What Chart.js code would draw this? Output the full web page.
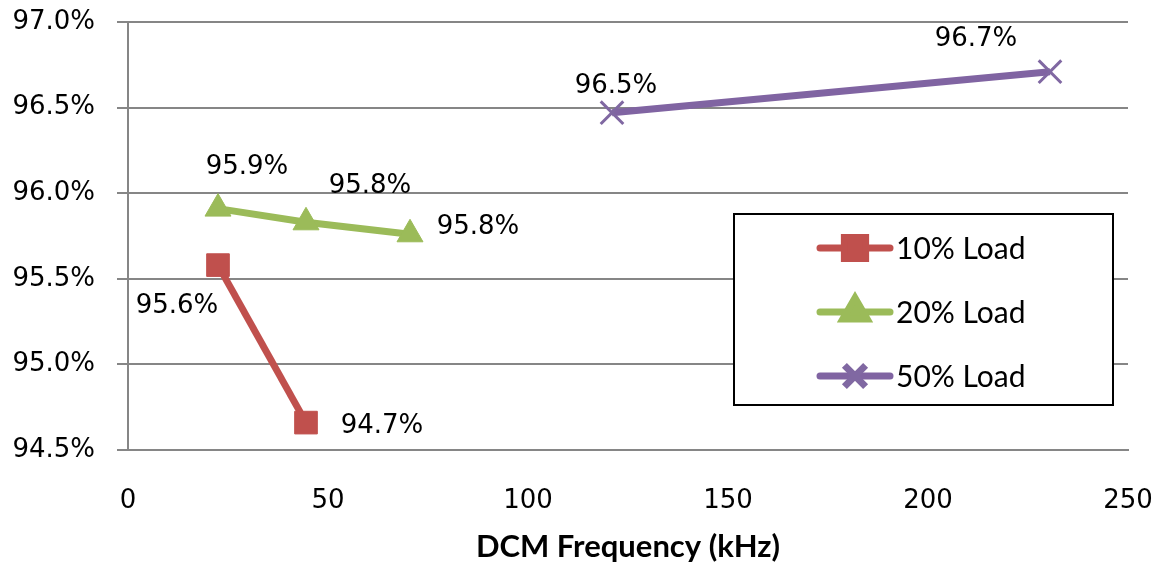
<!DOCTYPE html>
<html>
<head>
<meta charset="utf-8">
<script src="https://cdn.jsdelivr.net/npm/chart.js@4.4.1/dist/chart.umd.min.js"></script>
<style>
  html, body { margin: 0; padding: 0; background: #fff; }
  #wrap { width: 1163px; height: 567px; }
</style>
</head>
<body>
<div id="wrap"><canvas id="myChart"></canvas></div>
<script>
// data
const seriesNames = ["10% Load", "20% Load", "50% Load"];
const load10X = [22.5, 44.5];
const load10Y = [95.58, 94.66];
const load20X = [22.5, 44.5, 70.5];
const load20Y = [95.91, 95.83, 95.76];
const load50X = [121, 230.5];
const load50Y = [96.47, 96.71];
const xTicks = [0, 50, 100, 150, 200, 250];
const yTicks = [94.5, 95.0, 95.5, 96.0, 96.5, 97.0];

const gridGray = "#868686";
const tickFont = { family: "'DejaVu Sans'", size: 26 };

function points(xs, ys) {
  return xs.map((x, i) => ({ x: x, y: ys[i] }));
}

// where each value label sits relative to its point
const labelOffsets = [
  [[-41, 41], [76, 4]],
  [[29, -41], [64, -36], [68, -7]],
  [[4, -26], [-74, -32]]
];

const dataLabels = {
  id: "dataLabels",
  afterDatasetsDraw(chart) {
    const ctx = chart.ctx;
    ctx.save();
    ctx.font = "26px 'DejaVu Sans'";
    ctx.fillStyle = "#000";
    ctx.textAlign = "center";
    ctx.textBaseline = "middle";
    chart.data.datasets.forEach((ds, i) => {
      chart.getDatasetMeta(i).data.forEach((pt, j) => {
        const off = labelOffsets[i][j];
        ctx.fillText(ds.data[j].y.toFixed(1) + "%", pt.x + off[0], pt.y + off[1]);
      });
    });
    ctx.restore();
  }
};

// boxed legend inside the plot
const boxLegend = {
  id: "boxLegend",
  afterDraw(chart) {
    const ctx = chart.ctx;
    const left = 734, top = 214, w = 379, h = 191;
    ctx.save();
    ctx.fillStyle = "#fff";
    ctx.fillRect(left, top, w, h);
    ctx.strokeStyle = "#000";
    ctx.lineWidth = 2;
    ctx.strokeRect(left, top, w, h);
    chart.data.datasets.forEach((ds, i) => {
      const y = 248 + i * 64;
      ctx.strokeStyle = ds.borderColor;
      ctx.lineWidth = 7;
      ctx.lineCap = "round";
      ctx.beginPath();
      ctx.moveTo(820, y);
      ctx.lineTo(890, y);
      ctx.stroke();
      ctx.lineCap = "butt";
      ctx.fillStyle = ds.pointBackgroundColor;
      ctx.strokeStyle = ds.pointBorderColor;
      Chart.helpers.drawPoint(ctx, {
        pointStyle: ds.pointStyle,
        radius: ds.pointRadius - 1,
        borderWidth: ds.pointBorderWidth,
        rotation: 0
      }, 855, y);
      ctx.fillStyle = "#000";
      ctx.font = "30px Lato";
      ctx.textAlign = "left";
      ctx.textBaseline = "middle";
      ctx.fillText(seriesNames[i], 896, y + 1);
    });
    ctx.restore();
  }
};

const ctx = document.getElementById("myChart").getContext("2d");
const myChart = new Chart(ctx, {
  type: "line",
  data: {
    datasets: [
      {
        label: seriesNames[0],
        data: points(load10X, load10Y),
        borderColor: "#C0504D",
        backgroundColor: "#C0504D",
        borderWidth: 7,
        pointStyle: "rect",
        pointRadius: 16,
        pointBackgroundColor: "#C0504D",
        pointBorderColor: "#C0504D",
        pointBorderWidth: 1
      },
      {
        label: seriesNames[1],
        data: points(load20X, load20Y),
        borderColor: "#9BBB59",
        backgroundColor: "#9BBB59",
        borderWidth: 7,
        pointStyle: "triangle",
        pointRadius: 15,
        pointBackgroundColor: "#9BBB59",
        pointBorderColor: "#9BBB59",
        pointBorderWidth: 1
      },
      {
        label: seriesNames[2],
        data: points(load50X, load50Y),
        borderColor: "#8064A2",
        backgroundColor: "#8064A2",
        borderWidth: 7,
        pointStyle: "crossRot",
        pointRadius: 16,
        pointBackgroundColor: "#8068A2",
        pointBorderColor: "#8068A2",
        pointBorderWidth: 3
      }
    ]
  },
  options: {
    responsive: true,
    maintainAspectRatio: false,
    animation: false,
    clip: false,
    layout: { autoPadding: false, padding: { top: 22, right: 35, left: 0, bottom: 0 } },
    plugins: {
      legend: { display: false },
      tooltip: { enabled: false }
    },
    scales: {
      x: {
        type: "linear",
        min: xTicks[0],
        max: xTicks[xTicks.length - 1],
        afterBuildTicks: (s) => { s.ticks = xTicks.map((v) => ({ value: v })); },
        afterFit: (s) => { s.height = 117; s.paddingLeft = 0; s.paddingRight = 0; },
        grid: { display: false, drawTicks: false },
        border: { display: true, color: gridGray, width: 2 },
        ticks: { color: "#000", font: tickFont, padding: 36, maxRotation: 0 },
        title: {
          display: true,
          text: "DCM Frequency (kHz)",
          color: "#000",
          font: { family: "Lato", size: 31, weight: "bold" },
          padding: { top: 0, bottom: 1 }
        }
      },
      y: {
        min: yTicks[0],
        max: yTicks[yTicks.length - 1],
        afterBuildTicks: (s) => { s.ticks = yTicks.map((v) => ({ value: v })); },
        afterFit: (s) => { s.width = 128; s.paddingTop = 0; s.paddingBottom = 0; },
        grid: { color: gridGray, lineWidth: 2, tickLength: 11, drawTicks: true },
        border: { display: true, color: gridGray, width: 2 },
        ticks: {
          color: "#000",
          font: tickFont,
          padding: 22,
          callback: (v) => v.toFixed(1) + "%"
        }
      }
    }
  },
  plugins: [dataLabels, boxLegend]
});
</script>
</body>
</html>
